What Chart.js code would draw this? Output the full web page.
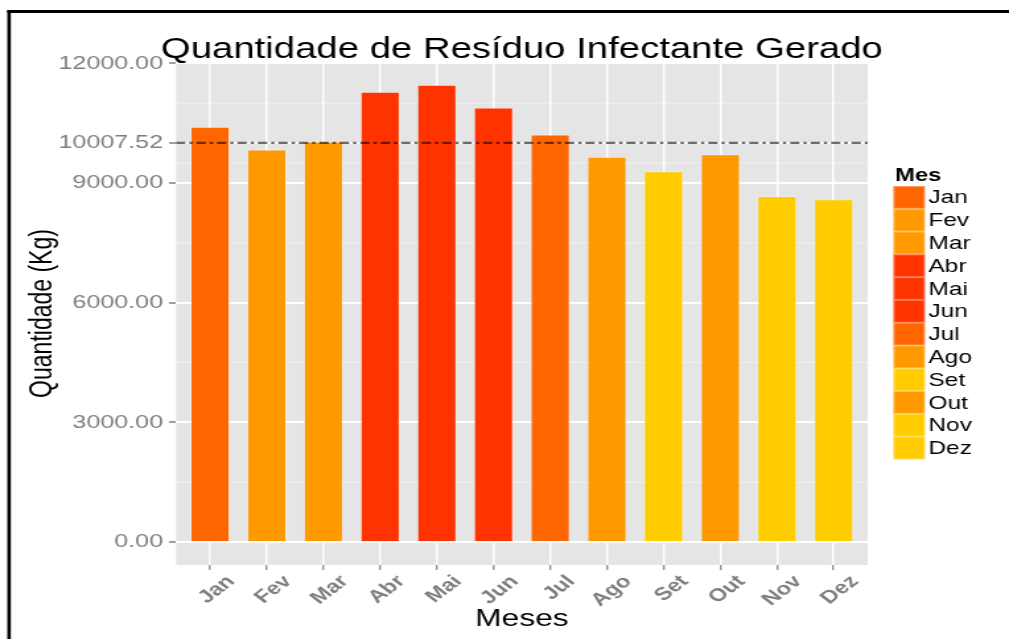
<!DOCTYPE html>
<html>
<head>
<meta charset="utf-8">
<script src="https://cdn.jsdelivr.net/npm/chart.js@4.4.1/dist/chart.umd.min.js"></script>
<style>
html,body{margin:0;padding:0;background:#ffffff;overflow:hidden;width:1009px;height:639px;}
#wrap{width:764px;height:639px;transform:scaleX(1.32068);transform-origin:0 0;}
canvas{display:block;}
</style>
</head>
<body>
<div id="wrap"><canvas id="c" width="764" height="639"></canvas></div>
<script>
// ---- data ----
const months = ['Jan','Fev','Mar','Abr','Mai','Jun','Jul','Ago','Set','Out','Nov','Dez'];
const values = [10410, 9842, 10042, 11285, 11460, 10895, 10217, 9660, 9292, 9720, 8675, 8592];
const barColors = ['#FF6600','#FF9900','#FF9900','#FF3300','#FF3300','#FF3300','#FF6600','#FF9900','#FFCC00','#FF9900','#FFCC00','#FFCC00'];
const meanValue = 10007.52;
const yTicks = [0, 3000, 6000, 9000, 10007.52, 12000];
const chartTitle = 'Quantidade de Resíduo Infectante Gerado';
const xTitle = 'Meses';
const yTitle = 'Quantidade (Kg)';
const legendTitle = 'Mes';

const FONT = '"Liberation Sans", Arial, Helvetica, sans-serif';
const yMaxData = Math.max(...values);
const yMin = -0.05 * yMaxData;
const yMax = 1.05 * yMaxData;
const sortedTicks = yTicks.slice().sort((a,b)=>a-b);
const yMinorTicks = sortedTicks.slice(1).map((v,i)=>(v + sortedTicks[i]) / 2);

const bgPlugin = {
  id: 'bg',
  beforeDraw(chart) {
    const {ctx, chartArea: a, scales} = chart;
    ctx.save();
    ctx.fillStyle = '#E5E5E5';
    ctx.fillRect(a.left, a.top, a.right - a.left, a.bottom - a.top);
    ctx.strokeStyle = '#F2F2F2';
    ctx.lineWidth = 1;
    yMinorTicks.forEach(v => {
      const y = scales.y.getPixelForValue(v);
      ctx.beginPath(); ctx.moveTo(a.left, y); ctx.lineTo(a.right, y); ctx.stroke();
    });
    ctx.restore();
  },
  afterDatasetsDraw(chart) {
    const {ctx, chartArea: a, scales} = chart;
    const y = scales.y.getPixelForValue(meanValue);
    ctx.save();
    ctx.strokeStyle = 'rgba(0,0,0,0.58)';
    ctx.lineWidth = 2.3;
    ctx.setLineDash([7, 3, 2.5, 3]);
    ctx.beginPath(); ctx.moveTo(a.left, y); ctx.lineTo(a.right, y); ctx.stroke();
    ctx.restore();
  },
  afterDraw(chart) {
    const {ctx, chartArea: a} = chart;
    ctx.save();
    // title
    ctx.fillStyle = '#000';
    ctx.font = '29px ' + FONT;
    ctx.textAlign = 'center';
    ctx.textBaseline = 'alphabetic';
    ctx.fillText(chartTitle, (a.left + a.right) / 2, 58);
    // legend
    const lx = 676.4, ly = 186, kw = 24, kh = 22.78;
    ctx.textAlign = 'left';
    ctx.font = 'bold 18px ' + FONT;
    ctx.fillText(legendTitle, 677.7, 181);
    ctx.font = '18.5px ' + FONT;
    ctx.textBaseline = 'middle';
    months.forEach((m, i) => {
      const y = ly + i * kh;
      ctx.fillStyle = barColors[i];
      ctx.fillRect(lx, y, kw, kh);
      ctx.strokeStyle = 'rgba(255,255,255,0.35)';
      ctx.lineWidth = 1;
      ctx.strokeRect(lx + 0.5, y + 0.5, kw - 1, kh - 1);
      ctx.fillStyle = '#000';
      ctx.fillText(m, 703, y + kh / 2 + 1);
    });
    // frame
    ctx.fillStyle = '#000';
    ctx.fillRect(5.5, 10, 2.7, 639);
    ctx.fillRect(5.5, 10, 764, 3);
    ctx.restore();
  }
};

const ctx = document.getElementById('c').getContext('2d');
new Chart(ctx, {
  type: 'bar',
  data: {
    datasets: [{
      label: 'Mes',
      data: values.map((v, i) => ({x: i, y: v})),
      backgroundColor: barColors,
      borderColor: 'rgba(255,255,255,0.3)',
      borderWidth: 1,
      barPercentage: 0.7,
      categoryPercentage: 1
    }]
  },
  options: {
    responsive: false,
    animation: false,
    devicePixelRatio: 1,
    layout: {padding: {left: 0, right: 107, top: 62, bottom: 0}},
    plugins: {legend: {display: false}, tooltip: {enabled: false}, title: {display: false}},
    scales: {
      x: {
        type: 'linear',
        min: -0.6,
        max: 11.6,
        offset: false,
        afterBuildTicks: s => { s.ticks = months.map((m, i) => ({value: i})); },
        afterFit: s => { s.height = 74; },
        grid: {color: '#FFFFFF', lineWidth: 1.5, tickColor: '#7F7F7F', tickLength: 5, tickWidth: 1.2, offset: false},
        border: {display: false},
        ticks: {
          autoSkip: false, minRotation: 45, maxRotation: 45, padding: 1, labelOffset: 16,
          color: '#7F7F7F', font: {family: FONT, size: 18, weight: 'bold'},
          callback: v => months[v]
        },
        title: {display: true, text: xTitle, color: '#000', font: {family: FONT, size: 24}, padding: {top: 0, bottom: 5}}
      },
      y: {
        min: yMin,
        max: yMax,
        afterBuildTicks: s => { s.ticks = yTicks.map(v => ({value: v})); },
        afterFit: s => { s.width = 133.3; },
        grid: {color: '#FFFFFF', lineWidth: 2, tickColor: '#7F7F7F', tickLength: 5.3, tickWidth: 1.5},
        border: {display: false},
        ticks: {padding: 4.5, color: '#7F7F7F', font: {family: FONT, size: 19}, callback: v => Number(v).toFixed(2)},
        title: {display: true, text: yTitle, color: '#000', font: {family: FONT, size: 23}, padding: {top: 19, bottom: 0}}
      }
    }
  },
  plugins: [bgPlugin]
});
</script>
</body>
</html>
